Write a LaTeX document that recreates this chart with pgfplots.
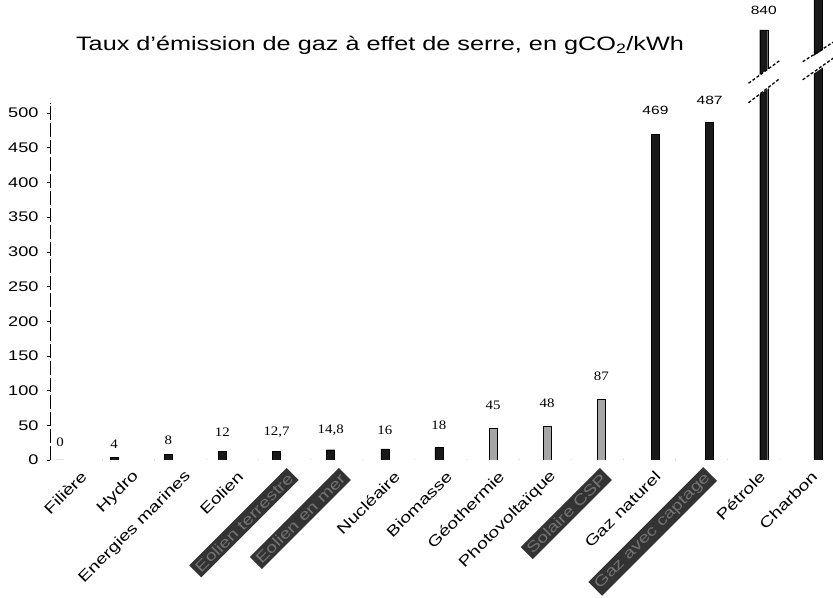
\documentclass[border=0pt]{standalone}
\usepackage{fontspec}
\setmainfont{Liberation Sans}[FakeStretch=1.3]
\newfontfamily\valfont{Liberation Serif}[FakeStretch=1.15]
\usepackage{pgfplots}
\usepackage{pgfplotstable}
\pgfplotsset{compat=1.18}

% bars (x = category index); Petrole and Charbon drawn on a broken scale
\pgfplotstableread{
x y
0 0
1 4
2 8
3 12
4 12.7
5 14.8
6 16
7 18
11 469
12 487
13 620
14 700
}\blackbars
\pgfplotstableread{
x y
8 45
9 48
10 87
}\graybars
\pgfplotstableread{
x y lab
0 26 0
1 22 4
2 29 8
3 40 12
4 40 {12,7}
5 43 {14,8}
6 43 16
7 50 18
8 79 45
9 82 48
10 120 87
}\smalllabels
\pgfplotstableread{
x y lab
11 504 469
12 519 487
13 648 840
}\biglabels

\newcommand{\obs}[1]{\colorbox{black!80}{\textcolor{black!55}{#1}}}

\begin{document}
\begin{tikzpicture}
\useasboundingbox (0,0) rectangle (833bp,598bp);
\node[font=\fontsize{19.5}{22}\selectfont] at (380bp,553bp) {Taux d'émission de gaz à effet de serre, en gCO\textsubscript{2}/kWh};
\begin{axis}[
  at={(50bp,138bp)}, anchor=south west,
  scale only axis, width=783bp, height=460bp,
  xmin=-0.185, xmax=14.28, ymin=0, ymax=663,
  axis line style={draw=none},
  ytick={0,50,...,500},
  /pgf/number format/assume math mode=true,
  yticklabel style={font=\fontsize{14}{16}\selectfont, anchor=east, xshift=-5bp},
  ytick style={black, line width=0.6pt},
  tick align=outside, major tick length=3bp,
  xtick={0.332,1.296,2.260,3.224,4.188,5.152,6.116,7.080,8.044,9.008,9.972,10.936,11.900,12.864,13.828},
  xticklabels={Filière, Hydro, Energies marines, Eolien, {\obs{Eolien terrestre}}, {\obs{Eolien en mer}}, Nucléaire, Biomasse, Géothermie, Photovoltaïque, {\obs{Solaire CSP}}, Gaz naturel, {\obs{Gaz avec captage}}, Pétrole, Charbon},
  xtick style={draw=none},
  xticklabel style={font=\fontsize{15}{17}\selectfont, rotate=45, anchor=east, yshift=-12bp},
  clip=true,
]
\addplot[ybar, bar shift=0pt, bar width=8bp, fill=black!90, draw=black] table[x=x,y=y]{\blackbars};
\addplot[ybar, bar shift=0pt, bar width=8bp, fill=black!35, draw=black, line width=0.8pt] table[x=x,y=y]{\graybars};
\addplot[draw=none, mark=none, nodes near coords, point meta=explicit symbolic,
  nodes near coords style={anchor=center, font=\valfont\fontsize{13}{15}\selectfont}]
  table[x=x,y=y,meta=lab]{\smalllabels};
\addplot[draw=none, mark=none, nodes near coords, point meta=explicit symbolic,
  nodes near coords style={anchor=center, font=\fontsize{12}{14}\selectfont}]
  table[x=x,y=y,meta=lab]{\biglabels};
% axis lines
\draw[line width=0.6pt] (axis cs:-0.185,0) -- (axis cs:14.28,0);
\draw[line width=0.8pt, dash pattern=on 14bp off 3bp] (axis cs:-0.185,0) -- (axis cs:-0.185,515);
\pgfplotsinvokeforeach{0.777,1.739,2.702,3.664,4.626,5.589,6.551,7.513,8.476,9.438,10.400,11.363,12.325,13.288}{
  \draw[line width=0.6pt] (axis cs:#1,0) -- ++(0,-4bp);
}
% axis breaks
\fill[white] (axis cs:12.6,510) -- (axis cs:13.4,552) -- (axis cs:13.4,580) -- (axis cs:12.6,538) -- cycle;
\draw[line width=1.3pt, dash pattern=on 3bp off 2bp] (axis cs:12.72,515) -- (axis cs:13.3,550);
\draw[line width=1.3pt, dash pattern=on 3bp off 2bp] (axis cs:12.72,543) -- (axis cs:13.3,576);
\fill[white] (axis cs:13.6,540) -- (axis cs:14.4,582) -- (axis cs:14.4,606) -- (axis cs:13.6,566) -- cycle;
\draw[line width=1.3pt, dash pattern=on 3bp off 2bp] (axis cs:13.72,548) -- (axis cs:14.3,580);
\draw[line width=1.3pt, dash pattern=on 3bp off 2bp] (axis cs:13.72,574) -- (axis cs:14.3,603);
\end{axis}
\end{tikzpicture}
\end{document}
